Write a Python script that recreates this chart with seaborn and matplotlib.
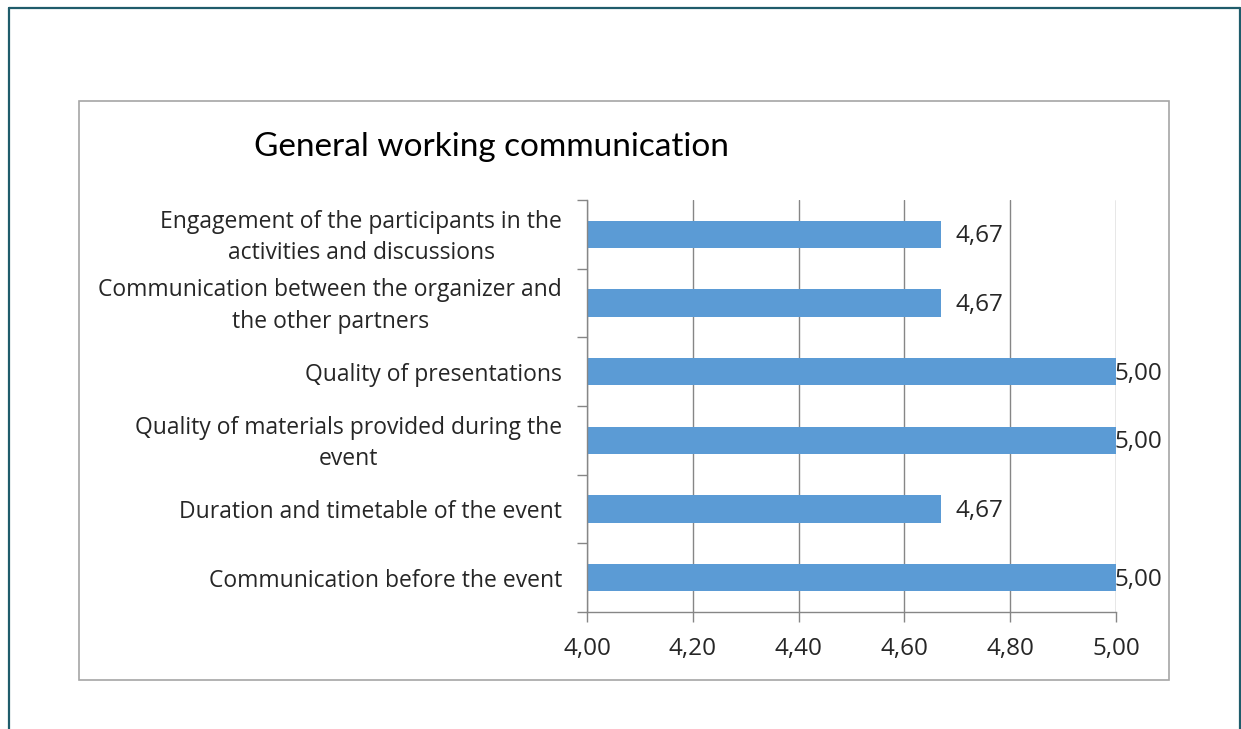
import matplotlib
matplotlib.use("Agg")
import matplotlib.pyplot as plt
import matplotlib.transforms as mtransforms
import seaborn as sns
import pandas as pd
from matplotlib.patches import Rectangle
from matplotlib.lines import Line2D

categories = [
    "Engagement of the participants in the\nactivities and discussions",
    "Communication between the organizer and\nthe other partners",
    "Quality of presentations",
    "Quality of materials provided during the\nevent",
    "Duration and timetable of the event",
    "Communication before the event",
]
values = [4.67, 4.67, 5.00, 5.00, 4.67, 5.00]
x_ticks = [4.00, 4.20, 4.40, 4.60, 4.80, 5.00]
title = "General working communication"

sns.set_theme(style="white")
plt.rcParams['font.family'] = ['Open Sans', 'DejaVu Sans']

W, H = 1241, 729
fig = plt.figure(figsize=(W / 100, H / 100), dpi=100)

def fx(px):
    return px / W

def fy(py):
    return 1 - py / H

# outer teal frame (top, left, right)
teal = "#1F5C6B"
fig.add_artist(Line2D([fx(9), fx(1240)], [fy(8), fy(8)], color=teal, lw=1.6, transform=fig.transFigure))
fig.add_artist(Line2D([fx(9), fx(9)], [fy(8), 0], color=teal, lw=1.6, transform=fig.transFigure))
fig.add_artist(Line2D([fx(1240), fx(1240)], [fy(8), 0], color=teal, lw=1.6, transform=fig.transFigure))

# chart area box
fig.add_artist(Rectangle((fx(79), fy(680)), fx(1169) - fx(79), fy(101) - fy(680),
                         fill=False, edgecolor="#A6A6A6", lw=1.2, transform=fig.transFigure))

ax = fig.add_axes([fx(587), fy(612), fx(1116) - fx(587), fy(200) - fy(612)])
df = pd.DataFrame({"cat": categories, "val": values})
sns.barplot(data=df, x="val", y="cat", orient="h", color="#5B9BD5", width=0.4,
            saturation=1, ax=ax, edgecolor="none")

txt = "#262626"
fs = 16.5
fsn = 17.5
ax.set_xlim(4.0, 5.0)
ax.set_ylim(len(categories) - 0.5, -0.5)
ax.set_xticks(x_ticks)
ax.set_xticklabels([f"{t:.2f}".replace(".", ",") for t in x_ticks], fontsize=fsn, color=txt)
ax.set_xlabel("")
ax.set_ylabel("")
ax.set_yticks(range(len(categories)))
ax.set_yticklabels(categories, fontsize=fs, color=txt, ha="right", linespacing=1.4,
                   multialignment="center")
ax.set_yticks([i - 0.5 for i in range(len(categories) + 1)], minor=True)
ax.tick_params(axis="y", which="major", length=0, pad=18)
ax.tick_params(axis="y", which="minor", length=7, color="#868686", width=1, left=True)
ax.tick_params(axis="x", which="major", length=7, color="#868686", width=1, bottom=True, pad=11)
ax.grid(axis="x", color="#868686", lw=1)
ax.set_axisbelow(True)
for s in ["top", "right"]:
    ax.spines[s].set_visible(False)
for s in ["left", "bottom"]:
    ax.spines[s].set_color("#868686")
    ax.spines[s].set_linewidth(1)

# nudge two-line labels up slightly
shift = mtransforms.ScaledTranslation(0, 3.5 / 100, fig.dpi_scale_trans)
for lab in ax.get_yticklabels():
    if "\n" in lab.get_text():
        lab.set_transform(lab.get_transform() + shift)

for i, v in enumerate(values):
    lbl = f"{v:.2f}".replace(".", ",")
    off = 14 if v < 4.99 else -2
    ax.annotate(lbl, (v, i), xytext=(off, -2), textcoords="offset pixels",
                va="center", ha="left", fontsize=fsn, color=txt)

fig.text(fx(254), fy(147), title, fontsize=24, color="#000000", va="center", ha="left",
         family=["Lato", "DejaVu Sans"])

fig.savefig("out.png", dpi=100, facecolor="white")
